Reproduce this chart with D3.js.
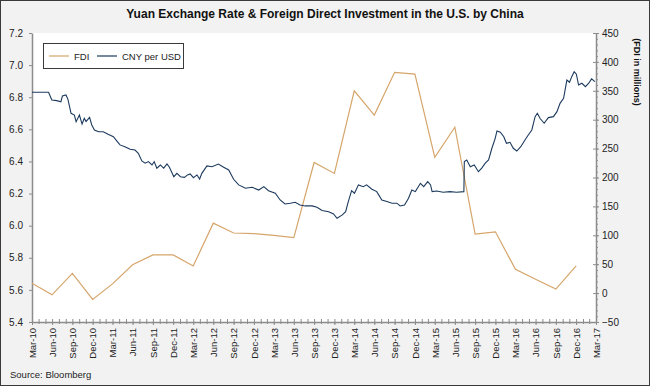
<!DOCTYPE html>
<html>
<head>
<meta charset="utf-8">
<script src="https://cdn.jsdelivr.net/npm/d3@7"></script>
<style>
  body { margin: 0; background: #fff; }
  svg { display: block; font-family: Arial, "Liberation Sans", sans-serif; }
  .axis path, .axis line { stroke: #8c8c8c; }
  .axis text { fill: #222; }
</style>
</head>
<body>
<svg id="chart" width="650" height="386"></svg>
<script>
const width = 650, height = 386
const margin = {top: 33, right: 54, bottom: 64, left: 32}

// FDI, quarterly, millions USD (Mar-10 .. Dec-16)
const fdiDates = ['2010-03-31','2010-06-30','2010-09-30','2010-12-31','2011-03-31','2011-06-30','2011-09-30','2011-12-31',
  '2012-03-31','2012-06-30','2012-09-30','2012-12-31','2013-03-31','2013-06-30','2013-09-30','2013-12-31',
  '2014-03-31','2014-06-30','2014-09-30','2014-12-31','2015-03-31','2015-06-30','2015-09-30','2015-12-31',
  '2016-03-31','2016-06-30','2016-09-30','2016-12-31']
const fdiValues = [17, -3, 34, -11, 16, 49, 66, 66, 47, 121, 104, 103, 100, 96, 226, 207,
  350, 308, 382, 379, 235, 287, 102, 106, 41, 24, 7, 47]

// CNY per USD
const cnyDates = ['2010-03-31','2010-06-14','2010-06-29','2010-07-21','2010-08-09','2010-08-16','2010-09-01','2010-09-10',
  '2010-09-24','2010-10-09','2010-10-17','2010-11-01','2010-11-13','2010-11-23','2010-12-01','2010-12-17','2010-12-27',
  '2011-01-08','2011-01-27','2011-02-17','2011-03-11','2011-04-04','2011-04-22','2011-05-04','2011-05-26','2011-06-19',
  '2011-07-11','2011-07-26','2011-08-11','2011-08-26','2011-09-10','2011-09-26','2011-10-06','2011-10-18','2011-11-03',
  '2011-11-18','2011-12-03','2011-12-14','2012-01-03','2012-01-17','2012-02-02','2012-02-20','2012-03-05','2012-03-17',
  '2012-04-01','2012-04-17','2012-04-29','2012-05-09','2012-06-01','2012-06-24','2012-07-23','2012-08-16','2012-09-08',
  '2012-09-30','2012-10-23','2012-11-23','2012-12-23','2013-01-22','2013-02-14','2013-03-07','2013-04-07','2013-04-29',
  '2013-05-21','2013-06-14','2013-07-06','2013-07-28','2013-08-21','2013-09-21','2013-10-13','2013-11-05','2013-12-05',
  '2013-12-27','2014-01-12','2014-02-05','2014-02-20','2014-03-04','2014-03-19','2014-04-01','2014-04-19','2014-05-11',
  '2014-05-26','2014-06-19','2014-07-11','2014-08-03','2014-08-26','2014-09-18','2014-10-10','2014-10-25','2014-11-14',
  '2014-12-02','2014-12-17','2015-01-02','2015-01-25','2015-02-09','2015-02-27','2015-03-12','2015-03-19','2015-04-09',
  '2015-05-08','2015-06-08','2015-07-08','2015-08-10','2015-08-12','2015-08-23','2015-09-08','2015-09-26','2015-10-15',
  '2015-10-30','2015-11-15','2015-11-30','2015-12-15','2015-12-30','2016-01-07','2016-01-22','2016-02-07','2016-02-19',
  '2016-03-06','2016-03-21','2016-04-06','2016-04-24','2016-05-13','2016-05-28','2016-06-13','2016-06-28','2016-07-08',
  '2016-07-20','2016-08-08','2016-08-27','2016-09-19','2016-10-05','2016-10-19','2016-11-04','2016-11-19','2016-12-01',
  '2016-12-11','2016-12-22','2017-01-01','2017-01-11','2017-01-26','2017-02-11','2017-02-26','2017-03-11','2017-03-26']
const cnyValues = [6.831,6.831,6.783,6.779,6.772,6.808,6.814,6.787,
  6.700,6.689,6.648,6.689,6.633,6.669,6.648,6.675,6.627,
  6.596,6.585,6.585,6.569,6.554,6.523,6.503,6.492,6.476,
  6.471,6.451,6.403,6.389,6.399,6.378,6.399,6.358,6.378,
  6.358,6.384,6.364,6.305,6.326,6.305,6.301,6.316,6.322,
  6.299,6.316,6.291,6.326,6.372,6.367,6.384,6.364,6.347,
  6.289,6.254,6.233,6.239,6.222,6.243,6.218,6.202,6.160,
  6.135,6.140,6.146,6.129,6.123,6.123,6.115,6.094,6.087,
  6.073,6.046,6.067,6.087,6.150,6.218,6.202,6.254,6.243,
  6.254,6.227,6.212,6.160,6.150,6.140,6.140,6.123,6.129,
  6.171,6.222,6.212,6.264,6.243,6.274,6.254,6.212,6.216,
  6.208,6.212,6.208,6.212,6.399,6.409,6.367,6.378,6.336,
  6.358,6.389,6.409,6.482,6.544,6.590,6.582,6.554,6.513,
  6.519,6.482,6.465,6.492,6.534,6.565,6.596,6.679,6.700,
  6.669,6.638,6.673,6.679,6.710,6.762,6.793,6.907,6.893,
  6.928,6.959,6.943,6.876,6.887,6.866,6.887,6.914,6.897]

const leftTicks = [5.4, 5.6, 5.8, 6.0, 6.2, 6.4, 6.6, 6.8, 7.0, 7.2]
const rightTicks = [-50, 0, 50, 100, 150, 200, 250, 300, 350, 400, 450]

const parse = d3.timeParse('%Y-%m-%d')
const fdiData = fdiDates.map((d, i) => ({date: parse(d), value: fdiValues[i]}))
const cnyData = cnyDates.map((d, i) => ({date: parse(d), value: cnyValues[i]}))

const svg = d3.select('#chart')

// background + outer border
svg.append('rect').attr('x', 0.5).attr('y', 0.5).attr('width', width-1).attr('height', height-1)
   .attr('fill', '#f2f2f2').attr('stroke', '#3a3a3a')

const x0 = margin.left, x1 = width - margin.right
const y0 = height - margin.bottom, y1 = margin.top

svg.append('rect').attr('x', x0).attr('y', y1).attr('width', x1-x0).attr('height', y0-y1).attr('fill', '#fff')

// month-end dates for ticks
const monthEnds = d3.range(0, 85).map(k => new Date(2010, 3 + k, 0))
const quarterEnds = monthEnds.filter((d, i) => i % 3 === 0)

const x = d3.scaleTime().domain([monthEnds[0], monthEnds[84]]).range([x0, x1])
const yL = d3.scaleLinear().domain([5.4, 7.2]).range([y0, y1])
const yR = d3.scaleLinear().domain([-50, 450]).range([y0, y1])

// x axis: minor monthly ticks, major quarterly ticks crossing the line
svg.append('g').attr('class', 'axis').attr('transform', `translate(0,${y0})`)
   .call(d3.axisTop(x).tickValues(monthEnds).tickSize(3).tickFormat(''))
   .call(g => g.select('.domain').remove())
svg.append('g').attr('class', 'axis').attr('transform', `translate(0,${y0})`)
   .call(d3.axisBottom(x).tickValues(monthEnds).tickSize(2).tickFormat(''))
   .call(g => g.select('.domain').remove())
const xAxis = svg.append('g').attr('class', 'axis').attr('transform', `translate(0,${y0})`)
   .call(d3.axisBottom(x).tickValues(quarterEnds).tickSize(3).tickSizeOuter(0).tickFormat(d3.timeFormat('%b-%y')))
xAxis.select('.domain').attr('stroke-width', 1.5)
xAxis.selectAll('text')
   .attr('font-size', 9.5)
   .attr('transform', 'rotate(-90)')
   .attr('text-anchor', 'end')
   .attr('x', -6).attr('y', 0).attr('dy', '0.35em')

// left axis
const leftAxis = svg.append('g').attr('class', 'axis').attr('transform', `translate(${x0},0)`)
   .call(d3.axisLeft(yL).tickValues(leftTicks).tickSize(3).tickSizeOuter(0).tickFormat(d3.format('.1f')))
leftAxis.select('.domain').attr('stroke-width', 1.5)
leftAxis.selectAll('text').attr('font-size', 10).attr('x', -9)

// right axis
const rightMinor = d3.range(-50, 451, 10)
svg.append('g').attr('class', 'axis').attr('transform', `translate(${x1},0)`)
   .call(d3.axisRight(yR).tickValues(rightMinor).tickSize(2).tickFormat(''))
   .call(g => g.select('.domain').remove())
svg.append('g').attr('class', 'axis').attr('transform', `translate(${x1},0)`)
   .call(d3.axisLeft(yR).tickValues(rightTicks).tickSize(3).tickFormat(''))
   .call(g => g.select('.domain').remove())
const rightAxis = svg.append('g').attr('class', 'axis').attr('transform', `translate(${x1},0)`)
   .call(d3.axisRight(yR).tickValues(rightTicks).tickSize(3).tickSizeOuter(0))
rightAxis.select('.domain').attr('stroke-width', 1.5)
rightAxis.selectAll('text').attr('font-size', 10).attr('x', 6)

// series
const fdiLine = d3.line().x(d => x(d.date)).y(d => yR(d.value))
const cnyLine = d3.line().x(d => x(d.date)).y(d => yL(d.value))

svg.append('path').datum(fdiData).attr('d', fdiLine)
   .attr('fill', 'none').attr('stroke', '#d6a56b').attr('stroke-width', 1.2)
svg.append('path').datum(cnyData).attr('d', cnyLine)
   .attr('fill', 'none').attr('stroke', '#1c3a5e').attr('stroke-width', 1.1)

// title
svg.append('text').attr('x', 325).attr('y', 18).attr('text-anchor', 'middle')
   .attr('font-size', 12).attr('font-weight', 'bold').attr('fill', '#111')
   .text('Yuan Exchange Rate & Foreign Direct Investment in the U.S. by China')

// right axis title
svg.append('text').attr('transform', 'translate(634,72) rotate(90)')
   .attr('text-anchor', 'middle').attr('font-size', 9).attr('font-weight', 'bold').attr('fill', '#111')
   .text('(FDI in millions)')

// legend
const legend = svg.append('g').attr('transform', 'translate(43,43)')
legend.append('rect').attr('x', 0.5).attr('y', 0.5).attr('width', 140).attr('height', 25)
      .attr('fill', '#fff').attr('stroke', '#3a3a3a')
const legendItems = [
  {label: 'FDI', color: '#d6a56b', x: 6},
  {label: 'CNY per USD', color: '#1c3a5e', x: 54}
]
legendItems.forEach(it => {
  legend.append('line').attr('x1', it.x).attr('x2', it.x + 20).attr('y1', 13).attr('y2', 13)
        .attr('stroke', it.color).attr('stroke-width', 1.2)
  legend.append('text').attr('x', it.x + 25).attr('y', 16.5).attr('font-size', 9.5).attr('fill', '#222')
        .text(it.label)
})

// source
svg.append('text').attr('x', 10).attr('y', 378).attr('font-size', 9.5).attr('fill', '#222')
   .text('Source: Bloomberg')
</script>
</body>
</html>
